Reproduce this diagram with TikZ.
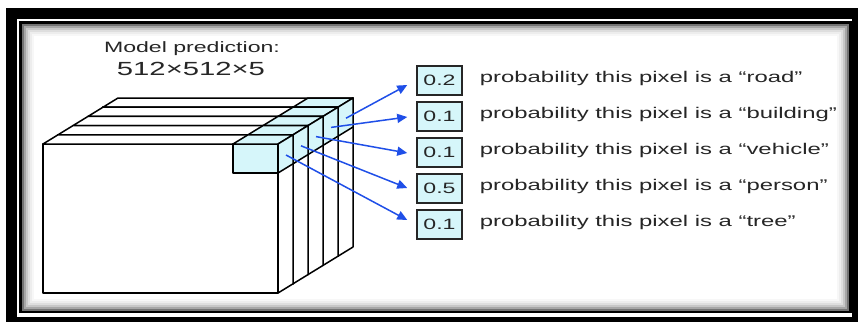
\documentclass[tikz,border=0pt]{standalone}
\usepackage{fontspec}
\setmainfont{Liberation Sans}
\usepackage{graphicx}
\usetikzlibrary{positioning,arrows.meta}

\definecolor{pixcyan}{HTML}{D6F6FA}
\definecolor{arrowblue}{HTML}{1F4FE8}
\definecolor{inkgray}{HTML}{262626}

% the source text is wide, so stretch it sideways
\newcommand{\strx}[1]{\scalebox{1.54}[1]{#1}}

\tikzset{
  slab/.style={draw=black, fill=white, line width=1.5pt, line join=round},
  pix/.style={draw=black, fill=pixcyan, line width=1.5pt, line join=round},
  probbox/.style={draw=inkgray, fill=pixcyan, line width=1.5pt, minimum width=45pt,
    minimum height=29pt, inner sep=0pt, text=inkgray, font=\fontsize{15}{17}\selectfont},
  problabel/.style={inner sep=0pt, text=inkgray, font=\fontsize{15.5}{18}\selectfont},
  probarrow/.style={draw=arrowblue, line width=1.5pt, -{Triangle[length=10pt,width=9pt]}},
}

\begin{document}
\begin{tikzpicture}[x=1pt,y=-1pt]
\useasboundingbox (0,0) rectangle (858,322);
% frame
\fill[black] (6,8) rectangle (858,322);
\fill[white] (17,19) rectangle (852,317);
\fill[black] (19,21) rectangle (852,313);
\fill[white] (22,24) rectangle (849,311);
\foreach \i/\c in {1/55,3/35,5/22,7/13,9/7,11/3}
  \draw[black!\c, line width=2pt] (22+\i,24+\i) rectangle (849-\i,311-\i);

% heading
\node[anchor=base, text=inkgray, font=\fontsize{15}{18}\selectfont] (title) at (192,52) {\strx{Model prediction:}};
\node[anchor=base, text=inkgray, font=\fontsize{19}{22}\selectfont] (dims) at (191,75.5) {\strx{512×512×5}};

% the five channel slabs, back to front
\foreach \k in {4,3,2,1,0}{
  \begin{scope}[shift={(15*\k,-9.2*\k)}]
    \filldraw[slab] (43,144) rectangle (278,293);
    \filldraw[slab] (43,144) -- (278,144) -- (293,134.8) -- (58,134.8) -- cycle;
    \filldraw[slab] (278,144) -- (278,293) -- (293,283.8) -- (293,134.8) -- cycle;
    \filldraw[pix] (233,144) rectangle (278,173);
    \filldraw[pix] (233,144) -- (278,144) -- (293,134.8) -- (248,134.8) -- cycle;
    \filldraw[pix] (278,144) -- (278,173) -- (293,163.8) -- (293,134.8) -- cycle;
    \coordinate (c\k) at (286,155);
  \end{scope}
}

% values and labels
\foreach \i/\v/\lbl in {1/0.2/road, 2/0.1/building, 3/0.1/vehicle, 4/0.5/person, 5/0.1/tree}{
  \node[probbox] (b\i) at (439.5,44.5+36*\i) {\strx{\v}};
  \node[problabel, right=17pt of b\i, yshift=2pt] (t\i) {\strx{probability this pixel is a “\lbl”}};
}

% arrows
\foreach \k/\i/\dy in {4/1/4.5, 3/2/0.5, 2/3/0.5, 1/4/-0.5, 0/5/-4.5}
  \draw[probarrow] (c\k) -- ([shift={(-9,\dy)}]b\i.west);
\end{tikzpicture}
\end{document}
